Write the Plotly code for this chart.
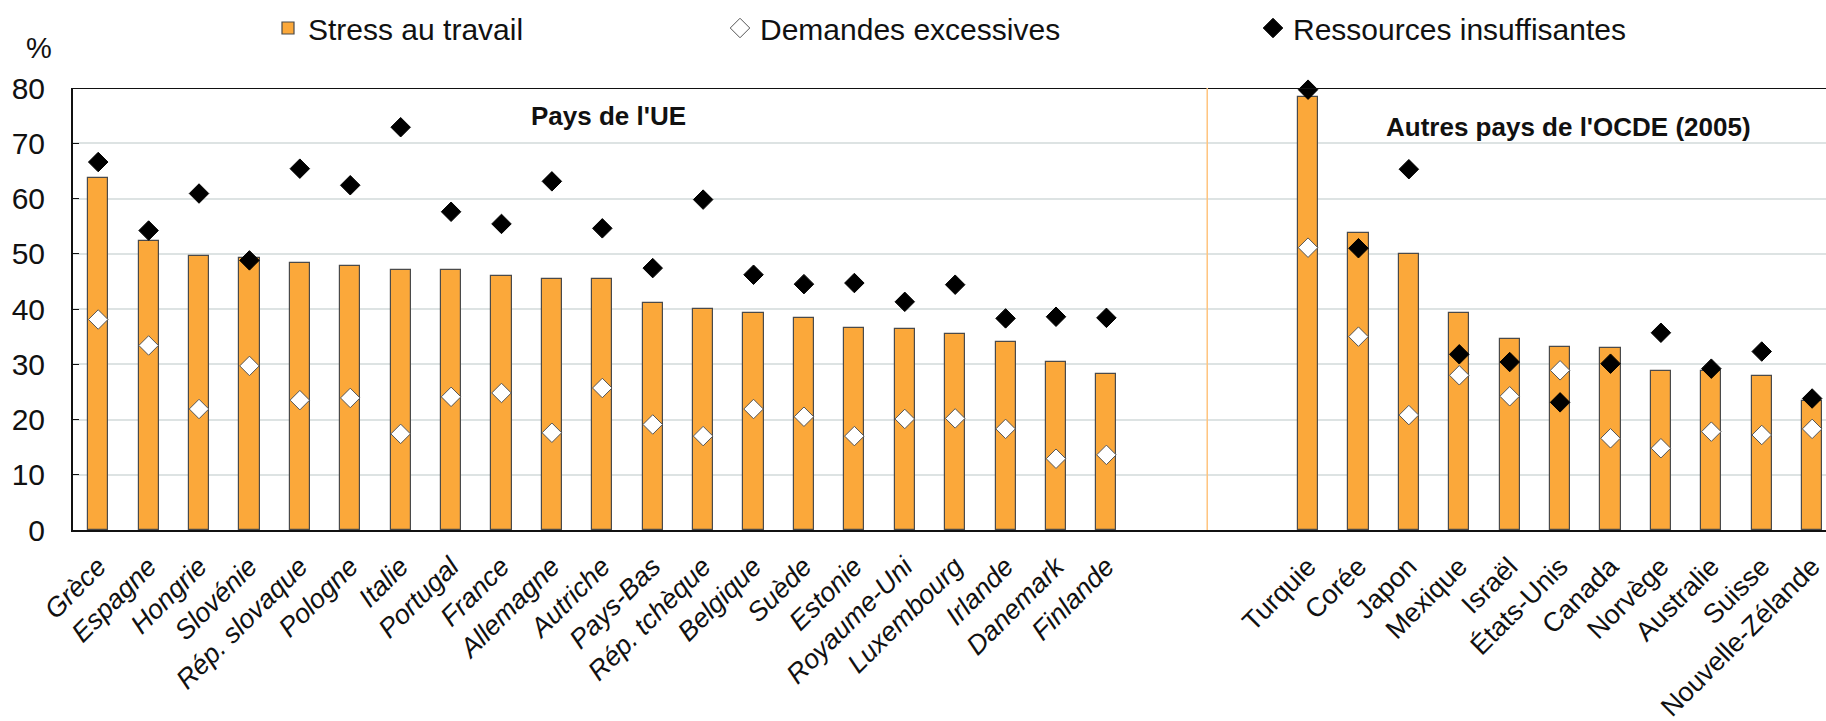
import plotly.graph_objects as go

# ---------------- data ----------------
eu_countries = ["Grèce", "Espagne", "Hongrie", "Slovénie", "Rép. slovaque", "Pologne", "Italie",
                "Portugal", "France", "Allemagne", "Autriche", "Pays-Bas", "Rép. tchèque", "Belgique",
                "Suède", "Estonie", "Royaume-Uni", "Luxembourg", "Irlande", "Danemark", "Finlande"]
eu_stress = [63.7, 52.3, 49.6, 49.2, 48.3, 47.8, 47.1, 47.0, 45.9, 45.4, 45.4, 41.1, 40.0, 39.2,
             38.3, 36.6, 36.3, 35.4, 34.1, 30.4, 28.3]
eu_demandes = [38.1, 33.4, 21.9, 29.7, 23.5, 23.9, 17.4, 24.1, 24.8, 17.6, 25.7, 19.1, 17.0, 21.9,
               20.5, 17.0, 20.1, 20.2, 18.3, 12.9, 13.6]
eu_ressources = [66.6, 54.2, 60.9, 48.8, 65.4, 62.4, 72.9, 57.6, 55.4, 63.1, 54.6, 47.4, 59.8, 46.2,
                 44.5, 44.7, 41.3, 44.4, 38.3, 38.6, 38.4]

oecd_countries = ["Turquie", "Corée", "Japon", "Mexique", "Israël", "États-Unis", "Canada",
                  "Norvège", "Australie", "Suisse", "Nouvelle-Zélande"]
oecd_stress = [78.4, 53.8, 50.0, 39.3, 34.5, 33.1, 32.9, 28.7, 28.7, 27.9, 23.3]
oecd_demandes = [51.1, 35.0, 20.8, 28.0, 24.2, 28.9, 16.6, 14.8, 17.8, 17.2, 18.3]
oecd_ressources = [79.7, 51.0, 65.3, 31.8, 30.4, 23.1, 30.1, 35.7, 29.2, 32.3, 23.8]

series_names = ["Stress au travail", "Demandes excessives", "Ressources insuffisantes"]
group_titles = ["Pays de l'UE", "Autres pays de l'OCDE (2005)"]
y_unit = "%"

# ---------------- layout helpers ----------------
GAP = 3  # empty slots between the two groups
n_eu = len(eu_countries)
pos_eu = list(range(n_eu))
pos_oecd = [n_eu + GAP + i for i in range(len(oecd_countries))]
positions = pos_eu + pos_oecd
divider = n_eu + (GAP - 1) / 2

labels = [f"<i>{c}</i>" for c in eu_countries] + oecd_countries
stress = eu_stress + oecd_stress
demandes = eu_demandes + oecd_demandes
ressources = eu_ressources + oecd_ressources

W, H = 1826, 721
ML, MR, MT, MB = 73, 0, 88, 191
PW, PH = W - ML - MR, H - MT - MB
SLOT = 50.41
x_max = -0.5 + PW / SLOT


def px(xp):
    return (xp - ML) / PW


def py(yp):
    return (H - MB - yp) / PH


FONT = "Liberation Sans, Arial, sans-serif"
ORANGE = "#FBA83A"

fig = go.Figure()
fig.add_trace(go.Bar(
    x=positions, y=stress, name=series_names[0], width=0.4,
    marker=dict(color=ORANGE, line=dict(color="#4a4a4a", width=1.2)),
    legend="legend"))
fig.add_trace(go.Scatter(
    x=positions, y=demandes, name=series_names[1], mode="markers",
    marker=dict(symbol="diamond", size=15, color="white", line=dict(color="#555555", width=1)),
    cliponaxis=False, legend="legend2"))
fig.add_trace(go.Scatter(
    x=positions, y=ressources, name=series_names[2], mode="markers",
    marker=dict(symbol="diamond", size=15, color="black", line=dict(color="black", width=1)),
    cliponaxis=False, legend="legend3"))

leg_common = dict(orientation="h", yanchor="middle", xanchor="left", bgcolor="rgba(0,0,0,0)",
                  font=dict(family=FONT, size=30, color="#111111"), itemclick=False)
fig.update_layout(
    legend=dict(x=px(311 - 43), y=py(28), **leg_common),
    legend2=dict(x=px(763 - 43), y=py(28), **leg_common),
    legend3=dict(x=px(1296 - 43), y=py(28), **leg_common),
)

fig.update_layout(
    width=W, height=H, margin=dict(l=ML, r=MR, t=MT, b=MB, pad=0, autoexpand=False),
    plot_bgcolor="white", paper_bgcolor="white",
    font=dict(family=FONT, color="#111111"),
    bargap=0, showlegend=True,
    xaxis=dict(range=[-0.5, x_max], tickmode="array", tickvals=positions, ticktext=labels,
               tickangle=-45, tickfont=dict(size=27, color="#111111"), showgrid=False,
               zeroline=False, showline=True, linecolor="#111111", linewidth=2, ticks="",
               automargin=False, ticklabelstandoff=8, ticklabeloverflow="allow"),
    yaxis=dict(range=[0, 80], dtick=10, tickfont=dict(size=30, color="#111111"),
               showgrid=True, gridcolor="#DDE3E3", gridwidth=1.5, zeroline=False,
               showline=True, linecolor="#111111", linewidth=2,
               ticks="inside", ticklen=6, tickcolor="#111111", ticklabelstandoff=20,
               automargin=False),
)

fig.add_shape(type="line", xref="paper", yref="y", x0=0, x1=1, y0=80, y1=80,
              line=dict(color="#111111", width=2))
fig.add_shape(type="line", xref="x", yref="y", x0=divider, x1=divider, y0=-1, y1=80,
              line=dict(color="#FFC47E", width=1.5))

fig.add_annotation(text=y_unit, xref="paper", yref="paper", x=px(38.6), y=py(47.5),
                   showarrow=False, xanchor="center", yanchor="middle",
                   font=dict(family=FONT, size=29, color="#111111"))
fig.add_annotation(text=f"<b>{group_titles[0]}</b>", xref="paper", yref="paper",
                   x=px(608.5), y=py(116), showarrow=False, xanchor="center", yanchor="middle",
                   font=dict(family=FONT, size=26, color="#111111"))
fig.add_annotation(text=f"<b>{group_titles[1]}</b>", xref="paper", yref="paper",
                   x=px(1568.5), y=py(127), showarrow=False, xanchor="center", yanchor="middle",
                   font=dict(family=FONT, size=26, color="#111111"))

fig.write_html("out.html", config={"displayModeBar": False},
               post_script="document.body.style.margin='0';document.body.style.overflow='hidden';")
